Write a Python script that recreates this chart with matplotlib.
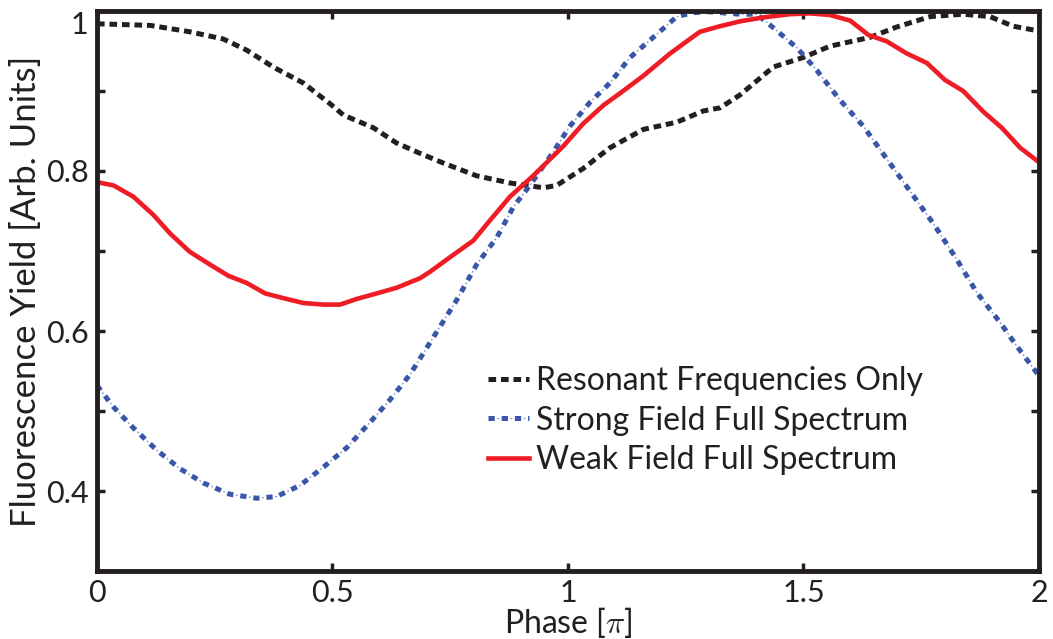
import numpy as np
import matplotlib
matplotlib.use("Agg")
import matplotlib.pyplot as plt

plt.rcParams['font.family'] = ['Lato', 'DejaVu Sans']
plt.rcParams['mathtext.fontset'] = 'cm'
plt.rcParams['lines.scale_dashes'] = False

# values
phase_res = [0.0, 0.113, 0.197, 0.268, 0.318, 0.374, 0.438, 0.495, 0.523, 0.587, 0.636, 0.686,
             0.735, 0.806, 0.877, 0.948, 0.976, 1.032, 1.089, 1.160, 1.231, 1.287, 1.323, 1.365,
             1.436, 1.5, 1.556, 1.641, 1.698, 1.769, 1.839, 1.896, 1.945, 2.0]
resonant = [0.984, 0.982, 0.974, 0.965, 0.951, 0.930, 0.910, 0.884, 0.870, 0.854, 0.835, 0.822,
            0.810, 0.794, 0.785, 0.779, 0.782, 0.803, 0.829, 0.852, 0.861, 0.875, 0.879, 0.895,
            0.930, 0.942, 0.956, 0.967, 0.980, 0.993, 0.996, 0.993, 0.981, 0.975]

phase_strong = [0.0, 0.035, 0.077, 0.127, 0.176, 0.226, 0.282, 0.339, 0.381, 0.431, 0.481, 0.530,
                0.580, 0.622, 0.665, 0.714, 0.764, 0.806, 0.849, 0.884, 0.919, 0.969, 1.004, 1.047,
                1.089, 1.132, 1.181, 1.231, 1.266, 1.30, 1.365, 1.40, 1.422, 1.486, 1.528, 1.577,
                1.627, 1.677, 1.726, 1.776, 1.825, 1.868, 1.917, 1.953, 2.0]
strong = [0.532, 0.505, 0.479, 0.451, 0.428, 0.410, 0.396, 0.391, 0.393, 0.407, 0.430, 0.454,
          0.486, 0.514, 0.546, 0.592, 0.639, 0.683, 0.717, 0.755, 0.782, 0.824, 0.856, 0.886,
          0.910, 0.942, 0.967, 0.993, 0.998, 0.999, 0.996, 0.996, 0.986, 0.954, 0.926, 0.889,
          0.856, 0.815, 0.775, 0.734, 0.690, 0.648, 0.611, 0.581, 0.544]

phase_weak = [0.0, 0.035, 0.077, 0.120, 0.155, 0.197, 0.240, 0.279, 0.318, 0.357, 0.396, 0.438,
              0.481, 0.516, 0.551, 0.594, 0.636, 0.686, 0.707, 0.749, 0.799, 0.834, 0.877, 0.926,
              0.990, 1.032, 1.075, 1.117, 1.160, 1.217, 1.280, 1.323, 1.365, 1.415, 1.471, 1.514,
              1.556, 1.599, 1.638, 1.677, 1.719, 1.762, 1.800, 1.839, 1.882, 1.921, 1.960, 2.0]
weak = [0.786, 0.782, 0.768, 0.745, 0.722, 0.699, 0.683, 0.669, 0.660, 0.647, 0.641, 0.635,
        0.633, 0.633, 0.640, 0.647, 0.654, 0.666, 0.674, 0.692, 0.713, 0.738, 0.768, 0.794,
        0.831, 0.859, 0.882, 0.900, 0.919, 0.947, 0.974, 0.981, 0.987, 0.992, 0.996, 0.997,
        0.995, 0.988, 0.970, 0.962, 0.947, 0.935, 0.914, 0.900, 0.874, 0.854, 0.829, 0.811]

labels = ['Resonant Frequencies Only', 'Strong Field Full Spectrum', 'Weak Field Full Spectrum']
xticks = [0, 0.5, 1, 1.5, 2]
xticklabels = ['0', '0.5', '1', '1.5', '2']
yticks = [0.3, 0.4, 0.5, 0.6, 0.7, 0.8, 0.9, 1.0]
yticklabels = ['', '0.4', '', '0.6', '', '0.8', '', '1']

black = '#231f20'
blue = '#3a56a8'
blue_thin = '#7088cc'
red = '#ee1c24'

fig = plt.figure(figsize=(10.53, 6.39), dpi=100)
ax = fig.add_axes([0.0921, 0.1064, 0.8946, 0.8764])

l_res, = ax.plot(phase_res, resonant, color=black, lw=3.6, linestyle=(0, (5.5, 3.5)),
                 dash_capstyle='butt')
l_str, = ax.plot(phase_strong, strong, color=blue, lw=3.6, linestyle=(0, (4.5, 5.0)),
                 dash_capstyle='butt')
l_str2, = ax.plot(phase_strong, strong, color=blue_thin, lw=0.9, linestyle=(3.1, (1.2, 8.3)),
                  dash_capstyle='butt')
l_weak, = ax.plot(phase_weak, weak, color=red, lw=3.3)

ax.set_xlim(0, 2)
ax.set_ylim(0.3, 1.0)
ax.set_xticks(xticks)
ax.set_xticklabels(xticklabels)
ax.set_yticks(yticks)
ax.set_yticklabels(yticklabels)
ax.yaxis.get_ticklabels()[-1].set_va('top')

ax.tick_params(direction='in', length=6, width=2.5, colors=black, labelsize=22,
               top=True, right=True, pad=6)
for s in ax.spines.values():
    s.set_linewidth(3.5)
    s.set_color(black)

ax.set_xlabel('Phase [$\\pi$]', fontsize=23, color=black, labelpad=-2)
ax.set_ylabel('Fluorescence Yield [Arb. Units]', fontsize=25, color=black, labelpad=3)

leg = ax.legend([l_res, (l_str, l_str2), l_weak], labels, loc='upper left',
                bbox_to_anchor=(0.415, 0.366), frameon=False, fontsize=23,
                handlelength=1.3, handletextpad=0.2, labelspacing=0.3,
                borderpad=0, borderaxespad=0)
for t in leg.get_texts():
    t.set_color(black)

fig.savefig('out.png', dpi=100)
